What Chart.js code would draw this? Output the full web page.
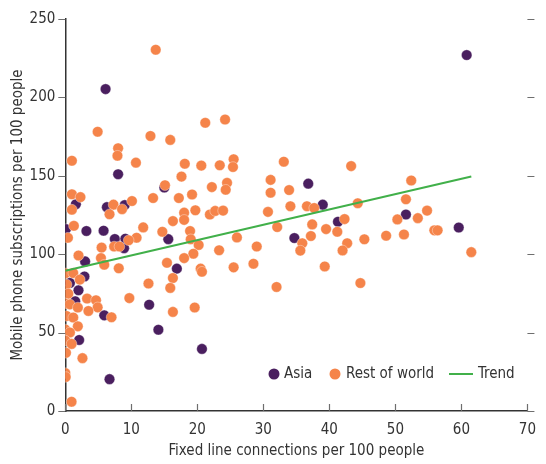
<!DOCTYPE html>
<html>
<head>
<meta charset="utf-8">
<script src="https://cdn.jsdelivr.net/npm/chart.js@4.4.1/dist/chart.umd.min.js"></script>
<style>
  html, body { margin: 0; padding: 0; background: #fff; }
  #wrap { width: 546px; height: 464px; }
</style>
</head>
<body>
<div id="wrap"><canvas id="scatter"></canvas></div>
<script>
// fixed lines (x) vs mobile subscriptions (y), per 100 people
const asiaPoints = [
  [0.1, 116], [1.6, 131.8], [3.2, 114.8], [3.0, 95.4], [2.9, 85.8], [2.0, 77], [0.7, 81.7],
  [1.5, 70], [2.1, 45.3], [5.9, 61], [6.1, 205.3], [8.0, 151], [6.3, 130], [9.0, 131.3],
  [5.8, 115], [7.5, 109.7], [9.1, 109.9], [8.9, 103.8], [15.6, 109.6], [15.0, 142.5],
  [16.9, 90.8], [12.7, 67.8], [14.1, 51.8], [6.7, 20.3], [20.7, 39.6], [34.7, 110.3],
  [36.8, 145], [39.0, 131.6], [41.3, 120.7], [51.6, 125.3], [59.6, 117], [60.8, 227]
];

const restPoints = [
  [13.7, 230.4], [4.9, 178.1], [12.9, 175.4], [15.9, 172.9], [21.2, 183.8], [24.2, 185.9],
  [8.0, 167.6], [7.9, 162.8], [1.0, 159.6], [10.7, 158.4], [18.1, 157.7], [20.6, 156.5],
  [23.4, 156.7], [25.5, 160.6], [25.4, 155.6], [33.1, 159.0], [43.3, 156.2], [17.6, 149.5],
  [15.1, 144.0], [22.2, 142.8], [24.5, 145.5], [24.3, 141.1], [31.1, 147.4], [31.1, 139.2],
  [33.9, 140.9], [52.4, 147.0], [1.0, 138.2], [2.3, 136.4], [13.3, 135.8], [17.2, 135.8],
  [19.2, 138.1], [10.1, 133.9], [7.3, 131.6], [1.0, 128.4], [6.7, 125.5], [8.6, 128.7],
  [18.0, 126.5], [19.7, 128.0], [21.9, 125.3], [22.7, 127.6], [23.9, 127.8], [30.7, 127.0],
  [34.1, 130.6], [36.6, 130.6], [37.7, 129.5], [44.3, 132.5], [51.6, 135.0], [54.8, 127.8],
  [16.3, 121.1], [18.0, 121.9], [1.3, 118.1], [11.8, 117.1], [32.1, 117.3], [37.4, 119.0],
  [42.3, 122.4], [50.3, 122.2], [53.4, 123.0], [14.7, 114.3], [18.9, 114.8], [39.5, 116.0],
  [41.2, 114.3], [0.4, 110.5], [10.8, 110.5], [9.6, 108.9], [19.0, 109.5], [26.0, 110.7],
  [37.2, 111.6], [45.3, 109.5], [48.6, 111.8], [51.3, 112.6], [55.9, 115.2], [56.4, 115.2],
  [35.9, 107.0], [42.7, 107.0], [20.2, 105.9], [5.5, 104.2], [7.4, 104.9], [8.2, 104.9],
  [29.0, 104.9], [23.3, 102.5], [35.6, 102.3], [42.0, 102.4], [61.5, 101.3], [19.4, 100.3],
  [2.0, 99.2], [5.4, 97.5], [18.0, 97.5], [5.9, 93.3], [15.4, 94.5], [28.5, 93.9],
  [39.3, 92.2], [8.1, 91.0], [25.5, 91.6], [20.5, 90.8], [20.7, 88.8], [0.0, 87.8],
  [1.2, 88.0], [16.3, 84.8], [2.2, 83.8], [0.2, 80.7], [12.6, 81.3], [44.7, 81.6],
  [32.0, 79.1], [15.9, 78.5], [0.45, 74.8], [3.3, 71.7], [4.65, 70.6], [9.7, 72.0],
  [0.0, 68.5], [0.7, 68.0], [1.9, 66.0], [4.9, 66.1], [19.6, 66.0], [3.5, 63.8],
  [16.3, 63.2], [0.2, 60.6], [1.2, 59.6], [7.0, 59.8], [1.9, 54.0], [0.0, 52.0],
  [0.7, 50.1], [0.0, 44.9], [0.95, 42.8], [0.1, 37.1], [2.6, 33.7], [0.0, 24.2],
  [0.06, 21.7], [0.95, 5.9]
];

const trendPoints = [[0, 89.5], [61.5, 149.5]];

const xTicks = [0, 10, 20, 30, 40, 50, 60, 70];
const yTicks = [0, 50, 100, 150, 200, 250];

const seriesNames = ['Asia', 'Rest of world', 'Trend'];
const xTitle = 'Fixed line connections per 100 people';
const yTitle = 'Mobile phone subscriptions per 100 people';

const FONT = "'Liberation Sans Narrow', 'DejaVu Sans Condensed', sans-serif";
const FSIZE = 15;
const PURPLE = '#4a1f5f';
const ORANGE = '#f5844a';
const GREEN = '#41b04a';
const INK = '#333333';

const toXY = pts => pts.map(p => ({ x: p[0], y: p[1] }));

// tick marks: x ticks point up into the plot, y ticks point out on both sides
const tickMarks = {
  id: 'tickMarks',
  afterDatasetsDraw(chart) {
    const { ctx, chartArea: a, scales: { x, y } } = chart;
    const len = 7;
    ctx.save();
    ctx.strokeStyle = '#6e6e6e';
    ctx.lineWidth = 1.2;
    ctx.beginPath();
    xTicks.forEach(v => {
      const px = Math.round(x.getPixelForValue(v)) + 0.5;
      ctx.moveTo(px, a.bottom);
      ctx.lineTo(px, a.bottom - len);
    });
    yTicks.forEach(v => {
      const py = Math.round(y.getPixelForValue(v)) + 0.5;
      ctx.moveTo(a.left - len, py);
      ctx.lineTo(a.left, py);
      ctx.moveTo(a.right, py);
      ctx.lineTo(a.right + len, py);
    });
    ctx.stroke();
    ctx.restore();
  }
};

// legend sits inside the plot, lower right
const innerLegend = {
  id: 'innerLegend',
  afterDraw(chart) {
    const { ctx } = chart;
    const ds = chart.data.datasets;
    const cy = 374;
    ctx.save();
    ctx.font = FSIZE + 'px ' + FONT;
    ctx.textBaseline = 'middle';

    // Asia
    ctx.beginPath();
    ctx.fillStyle = ds[0].backgroundColor;
    ctx.arc(274, cy, 5.5, 0, Math.PI * 2);
    ctx.fill();
    ctx.fillStyle = INK;
    ctx.fillText(ds[0].label, 284, cy);

    // Rest of world
    ctx.beginPath();
    ctx.fillStyle = ds[1].backgroundColor;
    ctx.arc(335, cy, 5.5, 0, Math.PI * 2);
    ctx.fill();
    ctx.fillStyle = INK;
    ctx.fillText(ds[1].label, 346, cy);

    // Trend
    ctx.strokeStyle = ds[2].borderColor;
    ctx.lineWidth = 2;
    ctx.beginPath();
    ctx.moveTo(449, cy);
    ctx.lineTo(473, cy);
    ctx.stroke();
    ctx.fillText(ds[2].label, 478, cy);
    ctx.restore();
  }
};

new Chart(document.getElementById('scatter'), {
  type: 'scatter',
  data: {
    datasets: [
      {
        label: seriesNames[0],
        data: toXY(asiaPoints),
        backgroundColor: PURPLE,
        borderColor: 'rgba(255,255,255,0.6)',
        borderWidth: 0.6,
        pointRadius: 5.3,
        order: 3
      },
      {
        label: seriesNames[1],
        data: toXY(restPoints),
        backgroundColor: ORANGE,
        borderColor: 'rgba(255,255,255,0.6)',
        borderWidth: 0.6,
        pointRadius: 5.3,
        order: 2
      },
      {
        type: 'line',
        label: seriesNames[2],
        data: toXY(trendPoints),
        borderColor: GREEN,
        backgroundColor: GREEN,
        borderWidth: 2,
        pointRadius: 0,
        fill: false,
        order: 1
      }
    ]
  },
  options: {
    responsive: true,
    maintainAspectRatio: false,
    animation: false,
    events: [],
    layout: { padding: { top: 15.7, right: 8.3, left: 0, bottom: 0 } },
    plugins: {
      legend: { display: false },
      tooltip: { enabled: false }
    },
    scales: {
      x: {
        type: 'linear',
        min: 0,
        max: 70,
        afterBuildTicks: s => { s.ticks = xTicks.map(v => ({ value: v })); },
        afterFit: s => { s.height = 53; },
        grid: { display: false, drawTicks: false },
        border: { display: true, color: INK, width: 1.5 },
        ticks: { color: INK, padding: 10, font: { family: FONT, size: FSIZE } },
        title: {
          display: true,
          text: xTitle,
          color: INK,
          font: { family: FONT, size: FSIZE },
          padding: { top: 0, bottom: 4 }
        }
      },
      y: {
        type: 'linear',
        min: 0,
        max: 250,
        afterBuildTicks: s => { s.ticks = yTicks.map(v => ({ value: v })); },
        afterFit: s => { s.width = 65.3; },
        grid: { display: false, drawTicks: false },
        border: { display: true, color: INK, width: 1.5 },
        ticks: { color: INK, padding: 10, font: { family: FONT, size: FSIZE } },
        title: {
          display: true,
          text: yTitle,
          color: INK,
          font: { family: FONT, size: FSIZE },
          padding: { top: 9, bottom: 0 }
        }
      }
    }
  },
  plugins: [tickMarks, innerLegend]
});
</script>
</body>
</html>
